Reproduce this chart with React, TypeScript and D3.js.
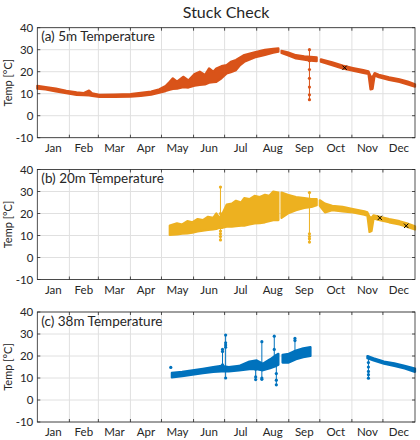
import React, { useEffect, useRef } from "react"
import * as d3 from "d3"

const monthNames = ['Jan', 'Feb', 'Mar', 'Apr', 'May', 'Jun', 'Jul', 'Aug', 'Sep', 'Oct', 'Nov', 'Dec']
const yTicks = [-10, 0, 10, 20, 30, 40]
const panelTitles = ['(a) 5m Temperature', '(b) 20m Temperature', '(c) 38m Temperature']

// 5 m sensor: spread of the readings per day of year (null = no data)
const days5 = [0, 8, 18, 28, 38, 45, 50, 53, 60, 75, 90, 100, 110, 118, 124, 128, 131, 135, 141, 146, 152, 157, 162, 166, 170, 173, 178, 183, 187, 192, 196, 200, 210, 220, 228, 233, 234.5, 236, 242, 250, 258, 264, 270, 272, 274, 285, 295, 305, 315, 320, 322, 324, 326, 330, 340, 350, 358, 365]
const lo5 = [12.3, 12, 11, 10.2, 9.5, 9.3, 9.2, 9, 8.5, 8.5, 8.7, 9, 9.6, 10.5, 11.2, 11.8, 12.2, 12.3, 13, 12.8, 13.6, 14, 14.2, 15, 15.3, 15.4, 17, 19.2, 19.8, 20.7, 23, 24.5, 26.5, 27.6, 28.6, 29.1, null, 28.5, 27.5, 26, 25.5, 25, 24.8, null, 24.5, 23, 21.5, 20.5, 19.5, 19, 12, 12.2, 18.3, 17.5, 16.3, 15.3, 14.2, 13.2]
const hi5 = [13.6, 13, 12.3, 11.3, 10.6, 10.3, 11.4, 10.2, 9.5, 9.6, 9.8, 10.4, 11, 12, 13.5, 15.4, 17, 15.5, 17.7, 16, 19, 20, 18.5, 21.5, 20, 21.5, 22.5, 23, 24.5, 25.3, 26.5, 27.6, 28.8, 29.9, 30.4, 30.6, null, 29.5, 28.8, 27.5, 27, 26.8, 26.5, null, 25.6, 24.3, 22.8, 21.7, 20.7, 20.2, 18, 17.5, 19.4, 18.6, 17.4, 16.5, 15.5, 14.3]
const spikeDays5 = [263]
const spikeVals5 = [[30, 25, 21, 17, 13, 9.5, 7.3]]
const flagDays5 = [297]
const flagVals5 = [21.8]

// 20 m sensor
const days20 = [128, 135, 140, 145, 150, 155, 160, 165, 170, 173, 176, 179, 183, 188, 192, 197, 200, 205, 210, 215, 220, 224, 228, 233, 234.5, 236, 242, 250, 258, 265, 270, 271.5, 273, 278, 285, 295, 305, 316, 319, 321, 323, 325, 331, 340, 350, 357, 365]
const lo20 = [10.3, 10.5, 10.8, 11, 11.3, 11.8, 12.2, 12.5, 12.8, 13, 13.5, 13.5, 14, 14, 14.2, 14.5, 14.5, 15, 15.5, 15.6, 16, 16.5, 17, 17, null, 18, 20, 21.5, 22.5, 23, 23.8, null, 23.5, 20.5, 21.5, 21, 20.5, 19.5, 19, 11.6, 12, 17.8, 17, 16, 15, 14, 12.7]
const hi20 = [14.5, 15.5, 15, 16.5, 16, 17.5, 17, 18.5, 18, 20, 18, 20, 24, 24.5, 25.8, 25, 27, 26.5, 28, 27.5, 28.5, 28, 30, 29.5, null, 29.5, 28.5, 27.5, 27, 26.5, 26.5, null, 26, 24.5, 23.5, 23, 22, 21, 20.5, 18.5, 18, 19.2, 18.5, 17.5, 16.5, 15.5, 14.2]
const spikeDays20 = [177, 263]
const spikeVals20 = [[32, 20, 12, 10.8, 9.5, 8], [29.5, 26, 10.8, 9.5, 8.5, 7]]
const flagDays20 = [331, 356.5]
const flagVals20 = [18, 14.4]

// 38 m sensor
const days38 = [130, 140, 150, 160, 170, 178, 185, 195, 205, 212, 218, 225, 231, 233, 235, 237, 243, 250, 257, 264, 290, 319, 325, 335, 345, 355, 365]
const lo38 = [10.3, 10.8, 11.5, 12.2, 12.8, 13, 13, 13.5, 14, 14, 13.5, 14.5, 15.5, 16, null, 17, 17, 18.5, 19.5, 20, null, 19, 18, 16.5, 15.5, 14.3, 12.8]
const hi38 = [12.3, 12.8, 13.5, 14.2, 15, 15.5, 15, 15.5, 17.5, 18, 16.5, 18.5, 20.5, 21, null, 20.5, 21, 22.5, 23.5, 24, null, 20, 19, 17.5, 16.7, 15.5, 14.3]
const spikeDays38 = [129, 179, 182, 211, 217, 229, 231, 249, 320]
const spikeVals38 = [[14.8], [23, 22, 16], [29.5, 26, 25, 24, 10], [14, 10.5, 9.3], [26.5, 14, 10, 9.4], [29, 23, 19], [20, 12, 9, 6.9], [28, 27, 22], [19.5, 17, 15, 13, 11.5, 9.9]]
const flagDays38: number[] = []
const flagVals38: number[] = []

const seriesColors = ['#D95319', '#EDB120', '#0072BD']

const panels = [
  { days: days5, lo: lo5, hi: hi5, spikeDays: spikeDays5, spikeVals: spikeVals5, flagDays: flagDays5, flagVals: flagVals5 },
  { days: days20, lo: lo20, hi: hi20, spikeDays: spikeDays20, spikeVals: spikeVals20, flagDays: flagDays20, flagVals: flagVals20 },
  { days: days38, lo: lo38, hi: hi38, spikeDays: spikeDays38, spikeVals: spikeVals38, flagDays: flagDays38, flagVals: flagVals38 },
]

const width = 420
const height = 440
const font = "Lato, 'Open Sans', sans-serif"
const axisColor = '#262626'
const gridColor = '#e0e0e0'

const t0 = Date.UTC(2019, 0, 1)
const toDate = (doy: number) => new Date(t0 + doy * 864e5)

const StuckCheck = () => {
  const ref = useRef<SVGSVGElement>(null)

  useEffect(() => {
    const svg = d3.select(ref.current)
    svg.selectAll('*').remove()

    const margin = { left: 37.3, right: 5 }
    const panelTops = [27.7, 169.5, 312]
    const panelH = 110

    const x = d3.scaleUtc()
      .domain([toDate(0), toDate(365)])
      .range([margin.left, width - margin.right])
    const innerWidth = width - margin.left - margin.right

    const monthStarts = d3.utcMonth.range(toDate(0), toDate(365))
    const monthMids = monthStarts.map(m => new Date((+m + +d3.utcMonth.offset(m, 1)) / 2))

    svg.append('text')
      .attr('x', margin.left + innerWidth / 2)
      .attr('y', 17.5)
      .attr('text-anchor', 'middle')
      .attr('font-family', font)
      .attr('font-size', 16)
      .attr('fill', axisColor)
      .text('Stuck Check')

    panels.forEach((p, i) => {
      const top = panelTops[i]
      const bottom = top + panelH
      const color = seriesColors[i]
      const y = d3.scaleLinear().domain([-10, 40]).range([bottom, top])
      const g = svg.append('g').attr('font-family', font)

      // grid
      g.append('g')
        .selectAll('line')
        .data(yTicks)
        .enter().append('line')
          .attr('x1', margin.left).attr('x2', margin.left + innerWidth)
          .attr('y1', d => y(d)).attr('y2', d => y(d))
          .attr('stroke', gridColor)
      g.append('g')
        .selectAll('line')
        .data(monthStarts.slice(1))
        .enter().append('line')
          .attr('x1', d => x(d)).attr('x2', d => x(d))
          .attr('y1', top).attr('y2', bottom)
          .attr('stroke', gridColor)

      // readings band
      const rows = p.days.map((d, k) => ({ day: d, lo: p.lo[k], hi: p.hi[k] }))
      const area = d3.area<typeof rows[0]>()
        .defined(d => d.lo != null)
        .x(d => x(toDate(d.day)))
        .y0(d => y(d.lo as number))
        .y1(d => y(d.hi as number))
      g.append('path')
        .attr('d', area(rows))
        .attr('fill', color)
        .attr('stroke', color)
        .attr('stroke-width', 2.2)
        .attr('stroke-linejoin', 'round')

      // stuck / spike excursions
      p.spikeDays.forEach((sd, k) => {
        const vals = p.spikeVals[k]
        const sx = x(toDate(sd))
        if (vals.length > 1) {
          g.append('line')
            .attr('x1', sx).attr('x2', sx)
            .attr('y1', y(d3.min(vals) as number)).attr('y2', y(d3.max(vals) as number))
            .attr('stroke', color)
            .attr('stroke-width', 1)
        }
        g.selectAll(null)
          .data(vals)
          .enter().append('circle')
            .attr('cx', sx)
            .attr('cy', d => y(d))
            .attr('r', 1.6)
            .attr('fill', color)
      })

      // flagged points
      const fs = 2.2
      p.flagDays.forEach((fd, k) => {
        const fx = x(toDate(fd))
        const fy = y(p.flagVals[k])
        g.append('path')
          .attr('d', `M${fx - fs},${fy - fs}L${fx + fs},${fy + fs}M${fx - fs},${fy + fs}L${fx + fs},${fy - fs}`)
          .attr('stroke', '#000')
          .attr('stroke-width', 1)
      })

      // frame and inward ticks
      g.append('rect')
        .attr('x', margin.left).attr('y', top)
        .attr('width', innerWidth).attr('height', panelH)
        .attr('fill', 'none')
        .attr('stroke', axisColor)
        .attr('stroke-width', 0.8)
      const tl = 3
      monthStarts.slice(1).forEach(m => {
        const mx = x(m)
        g.append('line').attr('x1', mx).attr('x2', mx).attr('y1', bottom).attr('y2', bottom - tl).attr('stroke', axisColor).attr('stroke-width', 0.8)
        g.append('line').attr('x1', mx).attr('x2', mx).attr('y1', top).attr('y2', top + tl).attr('stroke', axisColor).attr('stroke-width', 0.8)
      })
      yTicks.forEach(t => {
        g.append('line').attr('x1', margin.left).attr('x2', margin.left + tl).attr('y1', y(t)).attr('y2', y(t)).attr('stroke', axisColor).attr('stroke-width', 0.8)
        g.append('line').attr('x1', margin.left + innerWidth).attr('x2', margin.left + innerWidth - tl).attr('y1', y(t)).attr('y2', y(t)).attr('stroke', axisColor).attr('stroke-width', 0.8)
      })

      // tick labels
      g.append('g')
        .selectAll('text')
        .data(yTicks)
        .enter().append('text')
          .attr('x', margin.left - 4)
          .attr('y', d => y(d))
          .attr('dy', '0.35em')
          .attr('text-anchor', 'end')
          .attr('font-size', 11.5)
          .attr('fill', axisColor)
          .text(d => String(d))
      g.append('g')
        .selectAll('text')
        .data(monthMids)
        .enter().append('text')
          .attr('x', d => x(d))
          .attr('y', bottom + 14)
          .attr('text-anchor', 'middle')
          .attr('font-size', 11.5)
          .attr('fill', axisColor)
          .text((d, k) => monthNames[k])

      g.append('text')
        .attr('transform', `translate(${11.5}, ${top + panelH / 2}) rotate(-90)`)
        .attr('text-anchor', 'middle')
        .attr('font-size', 11)
        .attr('fill', axisColor)
        .text('Temp [°C]')

      g.append('text')
        .attr('x', margin.left + 4)
        .attr('y', top + 13.5)
        .attr('font-size', 13.5)
        .attr('fill', axisColor)
        .text(panelTitles[i])
    })
  }, [])

  return (
    <svg ref={ref} width={width} height={height}
      style={{ position: 'absolute', left: 0, top: 0, background: '#fff' }} />
  )
}

export default function App() {
  return <StuckCheck />
}
